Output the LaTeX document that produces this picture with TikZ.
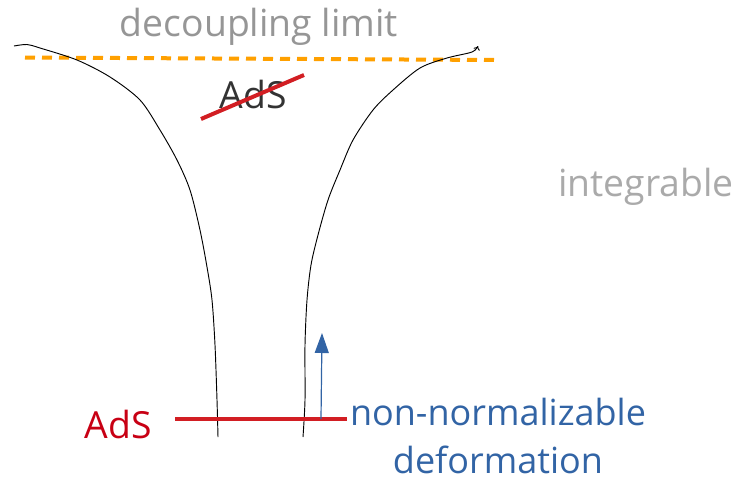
\documentclass[tikz,border=0pt]{standalone}
\usepackage{fontspec}
\setmainfont{Open Sans}
\usepackage{xcolor}
\usetikzlibrary{arrows.meta}
\definecolor{limgray}{RGB}{150,150,150}
\definecolor{intgray}{RGB}{170,170,170}
\definecolor{adsdark}{RGB}{51,51,51}
\definecolor{adsred}{RGB}{200,0,20}
\definecolor{linered}{RGB}{210,30,35}
\definecolor{defblue}{RGB}{50,100,165}
\definecolor{limorange}{RGB}{255,160,0}

\tikzset{
  label/.style={anchor=base, inner sep=0pt, font=\fontsize{28}{32}\selectfont},
  throat/.style={black, line width=0.7pt},
  limline/.style={limorange, line width=3pt, dash pattern=on 7.5pt off 5.25pt},
  redbar/.style={linered, line width=3pt}
}

\begin{document}
\begin{tikzpicture}[x=0.75pt, y=-0.75pt]

% Background
\useasboundingbox (0,0) rectangle (735,483);

% Labels
\node[label, text=limgray] (declim) at (259,36) {decoupling limit};
\node[label, text=adsdark] (adstop) at (253,108) {AdS};
\node[label, text=intgray] (integ) at (646,196) {integrable};
\node[label, text=adsred] (adsbot) at (118,438) {AdS};
\node[label, text=defblue, font=\fontsize{27}{32}\selectfont] (nonnorm) at (498,425) {non-normalizable};
\node[label, text=defblue, font=\fontsize{27}{32}\selectfont] (deform) at (498,473) {deformation};

% Decoupling limit
\draw[limline] (25,57.5) -- (500,60);

% Throat
\draw[throat] plot[smooth] coordinates {(14,46) (27,44.5) (40,48) (77,60) (110,77) (140,100)
  (160,130) (177,160) (190,190) (200,230) (207,267) (212,300) (215,345) (217,400) (218,437)};
\draw[throat, -{To[length=3pt,width=5pt]}] plot[smooth] coordinates {(303,437) (305,400) (305,345)
  (307,300) (311,265) (318,235) (328,200) (340,170) (353,140) (373,110) (393,90) (420,68)
  (447,58) (472,52) (478,46)};

% Crossed out AdS
\coordinate (crossL) at (201,119);
\coordinate (crossR) at (304,75);
\draw[redbar] (crossL) -- (crossR);

% AdS boundary and deformation
\coordinate (barL) at (175,419);
\coordinate (barR) at (347,419);
\draw[redbar] (barL) -- (barR);
\coordinate (defbase) at (321,419);
\coordinate (deftip) at (322,333);
\draw[defblue, line width=0.9pt, -{Triangle[length=15pt,width=10.5pt]}] (defbase) -- (deftip);

\end{tikzpicture}
\end{document}
